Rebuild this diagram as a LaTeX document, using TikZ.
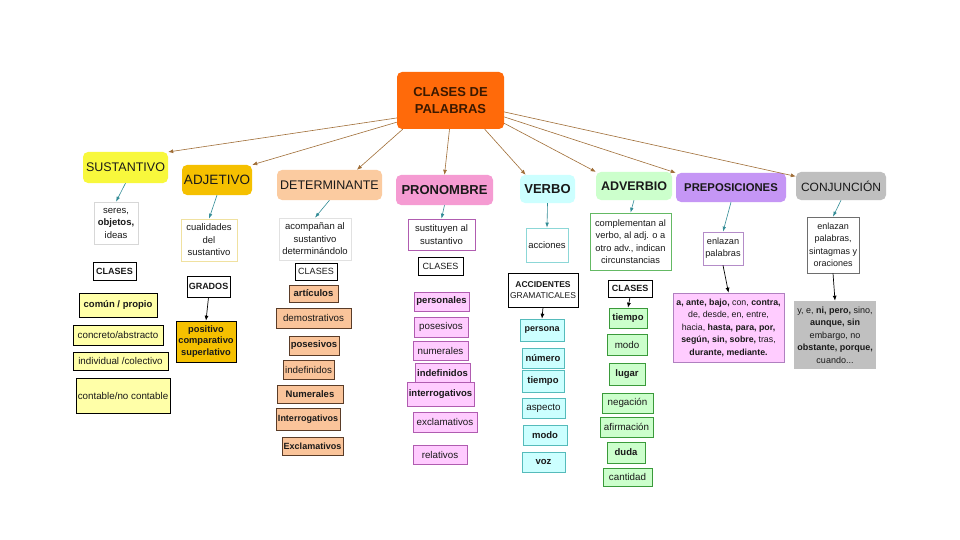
\documentclass[tikz,border=0pt]{standalone}
\usepackage{fontspec}
\setmainfont{Liberation Sans}
\usetikzlibrary{arrows.meta}
\definecolor{rootc}{RGB}{255,106,10}
\definecolor{sustc}{RGB}{248,248,60}
\definecolor{adjc}{RGB}{245,192,0}
\definecolor{detc}{RGB}{251,203,160}
\definecolor{pronc}{RGB}{245,155,210}
\definecolor{verbc}{RGB}{204,255,255}
\definecolor{advc}{RGB}{204,255,204}
\definecolor{prepc}{RGB}{197,150,245}
\definecolor{conjc}{RGB}{191,191,191}
\definecolor{brownline}{RGB}{160,110,55}
\definecolor{tealline}{RGB}{50,140,150}
\definecolor{sustl}{RGB}{255,255,168}
\definecolor{detl}{RGB}{250,196,154}
\definecolor{detb}{RGB}{90,60,40}
\definecolor{pronl}{RGB}{255,204,255}
\definecolor{pronb}{RGB}{176,92,176}
\definecolor{verbb}{RGB}{85,187,187}
\definecolor{advb}{RGB}{58,154,58}
\definecolor{prepb}{RGB}{176,128,192}
\definecolor{conjl}{RGB}{192,192,192}
\definecolor{txt}{RGB}{25,25,25}
\tikzset{
  box/.style={rectangle, inner sep=1pt, align=center, text=txt},
  topbox/.style={box, rounded corners=5pt},
  descbox/.style={box, draw, line width=0.6pt, fill=white, font=\fontsize{9.5}{12.5}\selectfont},
  clasesbox/.style={box, draw=black, line width=0.7pt, fill=white, font=\fontsize{9}{10}\selectfont\bfseries},
  itembox/.style={box, draw, line width=0.6pt, font=\fontsize{9.8}{11}\selectfont},
  itemb/.style={itembox, font=\fontsize{9.5}{11}\selectfont\bfseries},
  itemsb/.style={itembox, font=\fontsize{9}{11}\selectfont\bfseries},
  mainarrow/.style={draw=brownline, line width=0.6pt, -{Latex[length=5pt,width=4pt]}},
  subarrow/.style={draw=tealline, line width=0.6pt, -{Latex[length=5pt,width=3.5pt]}},
  blackarrow/.style={draw=black, line width=0.7pt, -{Latex[length=5pt,width=4pt]}}
}
\begin{document}
\begin{tikzpicture}[x=1pt,y=-1pt]
\fill[white] (0,0) rectangle (960,540);
\useasboundingbox (0,0) rectangle (960,540);

% root
\node[topbox, fill=rootc, minimum width=107pt, minimum height=57pt, text={rgb,255:red,60;green,25;blue,0},
  font=\fontsize{13}{17}\selectfont\bfseries] (root) at (450.5,100.5) {CLASES DE\\PALABRAS};

% top row
\node[topbox, fill=sustc, minimum width=85pt, minimum height=31pt, font=\fontsize{12.5}{14}\selectfont] (sust) at (125.5,167.5) {SUSTANTIVO};
\node[topbox, fill=adjc, minimum width=70pt, minimum height=30pt, font=\fontsize{13.5}{15}\selectfont] (adj) at (217,180) {ADJETIVO};
\node[topbox, fill=detc, minimum width=105pt, minimum height=30pt, font=\fontsize{12.5}{14}\selectfont] (det) at (329.5,185) {DETERMINANTE};
\node[topbox, fill=pronc, minimum width=97pt, minimum height=30pt, font=\fontsize{13}{15}\selectfont\bfseries] (pron) at (444.5,190) {PRONOMBRE};
\node[topbox, fill=verbc, minimum width=55pt, minimum height=28pt, font=\fontsize{13}{15}\selectfont\bfseries] (verbo) at (547.5,189) {VERBO};
\node[topbox, fill=advc, minimum width=76pt, minimum height=28pt, font=\fontsize{12.5}{15}\selectfont\bfseries] (adv) at (634,186) {ADVERBIO};
\node[topbox, fill=prepc, minimum width=110pt, minimum height=29pt, font=\fontsize{11.3}{14}\selectfont\bfseries] (prep) at (731,187.5) {PREPOSICIONES};
\node[topbox, fill=conjc, minimum width=90pt, minimum height=28pt, font=\fontsize{12}{14}\selectfont] (conj) at (841,186) {CONJUNCIÓN};

% root arrows
\draw[mainarrow] (root.198) -- (sust.20);
\draw[mainarrow] (root.202) -- (adj.north east);
\draw[mainarrow] (root.211) -- (det.29);
\draw[mainarrow] (root.268) -- (pron.north);
\draw[mainarrow] (root.320) -- (verbo.147);
\draw[mainarrow] (root.337) -- (adv.north west);
\draw[mainarrow] (root.343) -- (prep.north west);
\draw[mainarrow] (root.348) -- (conj.168);

% descriptions
\node[descbox, draw={rgb,255:red,215;green,215;blue,215}, minimum width=44pt, minimum height=42pt] (d1) at (116,223) {seres,\\\textbf{objetos,}\\ideas};
\node[descbox, draw={rgb,255:red,240;green,225;blue,160}, minimum width=56pt, minimum height=42pt] (d2) at (209,240) {cualidades\\del\\sustantivo};
\node[descbox, draw={rgb,255:red,225;green,225;blue,225}, minimum width=72pt, minimum height=42pt] (d3) at (315,239) {acompañan al\\sustantivo\\determinándolo};
\node[descbox, draw=pronb, minimum width=67pt, minimum height=31pt] (d4) at (441.5,234.5) {sustituyen al\\sustantivo};
\node[descbox, draw={rgb,255:red,140;green,215;blue,215}, minimum width=42pt, minimum height=34pt] (d5) at (547,245) {acciones};
\node[descbox, draw={rgb,255:red,100;green,185;blue,100}, minimum width=81pt, minimum height=57pt, font=\fontsize{9.3}{12.5}\selectfont] (d6) at (630.5,241.5) {complementan al\\verbo, al adj. o a\\otro adv., indican\\circunstancias};
\node[descbox, draw={rgb,255:red,180;green,140;blue,200}, minimum width=40pt, minimum height=33pt, font=\fontsize{9.2}{12}\selectfont] (d7) at (723,248.5) {enlazan\\palabras};
\node[descbox, draw={rgb,255:red,110;green,110;blue,110}, minimum width=52pt, minimum height=56pt, font=\fontsize{9}{12.5}\selectfont] (d8) at (833,245) {enlazan\\palabras,\\sintagmas y\\oraciones};

\draw[subarrow] (sust.south) -- (d1.north);
\draw[subarrow] (adj.south) -- (d2.north);
\draw[subarrow] (det.south) -- (d3.north);
\draw[subarrow] (pron.south) -- (d4.north);
\draw[subarrow] (verbo.south) -- (d5.north);
\draw[subarrow] (adv.south) -- (d6.north);
\draw[subarrow] (prep.south) -- (d7.north);
\draw[subarrow] (conj.south) -- (d8.north);

% column 1: sustantivo
\node[clasesbox, minimum width=43pt, minimum height=18pt] (c1) at (114.5,271) {CLASES};
\node[itemb, draw=black, fill=sustl, minimum width=78pt, minimum height=24pt] (s1) at (118,305) {común / propio};
\node[itembox, draw=black, fill=sustl, minimum width=90pt, minimum height=20pt] (s2) at (118,335) {concreto/abstracto};
\node[itembox, draw=black, fill=sustl, minimum width=95pt, minimum height=18pt] (s3) at (120.5,361) {individual /colectivo};
\node[itembox, draw=black, fill=sustl, minimum width=94pt, minimum height=35pt] (s4) at (123,395.5) {contable/no contable};

% column 2: adjetivo
\node[clasesbox, minimum width=43pt, minimum height=21pt] (g) at (208.5,286.5) {GRADOS};
\node[itembox, draw=black, fill=adjc, minimum width=60pt, minimum height=41pt, font=\fontsize{9.3}{11.8}\selectfont\bfseries] (pos) at (206,341.5) {positivo\\comparativo\\superlativo};
\draw[blackarrow] (g.south) -- (pos.north);

% column 3: determinante
\node[clasesbox, minimum width=42pt, minimum height=17pt, font=\fontsize{9}{10}\selectfont] (c3) at (316,271.5) {CLASES};
\node[itemb, draw=detb, fill=detl, minimum width=49pt, minimum height=17pt] (e1) at (313.5,293.5) {artículos};
\node[itembox, draw=detb, fill=detl, minimum width=75pt, minimum height=20pt] (e2) at (313.5,318) {demostrativos};
\node[itemb, draw=detb, fill=detl, minimum width=50pt, minimum height=19pt] (e3) at (314,345.5) {posesivos};
\node[itembox, draw=detb, fill=detl, minimum width=51pt, minimum height=19pt] (e4) at (308.5,369.5) {indefinidos};
\node[itemb, draw=detb, fill=detl, minimum width=66pt, minimum height=18pt] (e5) at (310,394) {Numerales};
\node[itemsb, draw=detb, fill=detl, minimum width=64pt, minimum height=22pt] (e6) at (308,419) {Interrogativos};
\node[itemsb, draw=detb, fill=detl, minimum width=61pt, minimum height=18pt] (e7) at (312.5,446) {Exclamativos};

% column 4: pronombre
\node[clasesbox, minimum width=45pt, minimum height=18pt, font=\fontsize{9}{10}\selectfont] (c4) at (440.5,266) {CLASES};
\node[itemb, draw=pronb, fill=pronl, minimum width=55pt, minimum height=19pt] (p1) at (441.5,301.5) {personales};
\node[itembox, draw=pronb, fill=pronl, minimum width=54pt, minimum height=20pt] (p2) at (441,327) {posesivos};
\node[itembox, draw=pronb, fill=pronl, minimum width=55pt, minimum height=19pt] (p3) at (440.5,350.5) {numerales};
\node[itemb, draw=pronb, fill=pronl, minimum width=55pt, minimum height=20pt] (p4) at (442.5,373) {indefinidos};
\node[itemb, draw=pronb, fill=pronl, minimum width=67pt, minimum height=24pt] (p5) at (440.5,394) {interrogativos};
\node[itembox, draw=pronb, fill=pronl, minimum width=64pt, minimum height=20pt] (p6) at (445,422) {exclamativos};
\node[itembox, draw=pronb, fill=pronl, minimum width=54pt, minimum height=19pt] (p7) at (440,454.5) {relativos};

% column 5: verbo
\node[clasesbox, minimum width=70pt, minimum height=34pt, font=\fontsize{8.5}{11}\selectfont] (acc) at (543,290) {\textbf{ACCIDENTES}\\\mdseries GRAMATICALES};
\node[itemsb, draw=verbb, fill=verbc, minimum width=44pt, minimum height=22pt] (v1) at (542,330) {persona};
\node[itemb, draw=verbb, fill=verbc, minimum width=42pt, minimum height=20pt] (v2) at (543,358) {número};
\node[itemb, draw=verbb, fill=verbc, minimum width=42pt, minimum height=22pt] (v3) at (543,381) {tiempo};
\node[itembox, draw=verbb, fill=verbc, minimum width=43pt, minimum height=20pt] (v4) at (543.5,408) {aspecto};
\node[itemb, draw=verbb, fill=verbc, minimum width=44pt, minimum height=20pt] (v5) at (545,435) {modo};
\node[itemb, draw=verbb, fill=verbc, minimum width=43pt, minimum height=20pt] (v6) at (543.5,462) {voz};
\draw[blackarrow] (acc.south) -- (v1.north);

% column 6: adverbio
\node[clasesbox, minimum width=44pt, minimum height=17pt] (c6) at (630,288.5) {CLASES};
\node[itemb, draw=advb, fill=advc, minimum width=38pt, minimum height=20pt] (a1) at (628,318) {tiempo};
\node[itembox, draw=advb, fill=advc, minimum width=40pt, minimum height=21pt] (a2) at (627,344.5) {modo};
\node[itemb, draw=advb, fill=advc, minimum width=36pt, minimum height=22pt] (a3) at (627,374) {lugar};
\node[itembox, draw=advb, fill=advc, minimum width=51pt, minimum height=20pt] (a4) at (627.5,403) {negación};
\node[itembox, draw=advb, fill=advc, minimum width=53pt, minimum height=20pt] (a5) at (626.5,427) {afirmación};
\node[itemb, draw=advb, fill=advc, minimum width=38pt, minimum height=21pt] (a6) at (626,452.5) {duda};
\node[itembox, draw=advb, fill=advc, minimum width=49pt, minimum height=18pt] (a7) at (627.5,477) {cantidad};
\draw[blackarrow] (c6.south) -- (a1.north);

% column 7: preposiciones
\node[itembox, draw=prepb, fill=pronl, minimum width=111pt, minimum height=69pt, font=\fontsize{8.8}{12.5}\selectfont] (pl) at (728.5,327.5) {\textbf{a, ante, bajo,} con, \textbf{contra,}\\de, desde, en, entre,\\hacia, \textbf{hasta, para, por,}\\\textbf{según, sin, sobre,} tras,\\\textbf{durante, mediante.}};
\draw[blackarrow] (d7.south) -- (pl.north);

% column 8: conjuncion
\node[itembox, draw=none, fill=conjl, minimum width=82pt, minimum height=68pt, font=\fontsize{9}{12.5}\selectfont] (cl) at (835,335) {y, e, \textbf{ni, pero,} sino,\\\textbf{aunque, sin}\\embargo, no\\\textbf{obstante, porque,}\\cuando...};
\draw[blackarrow] (d8.south) -- (cl.north);

\end{tikzpicture}
\end{document}
